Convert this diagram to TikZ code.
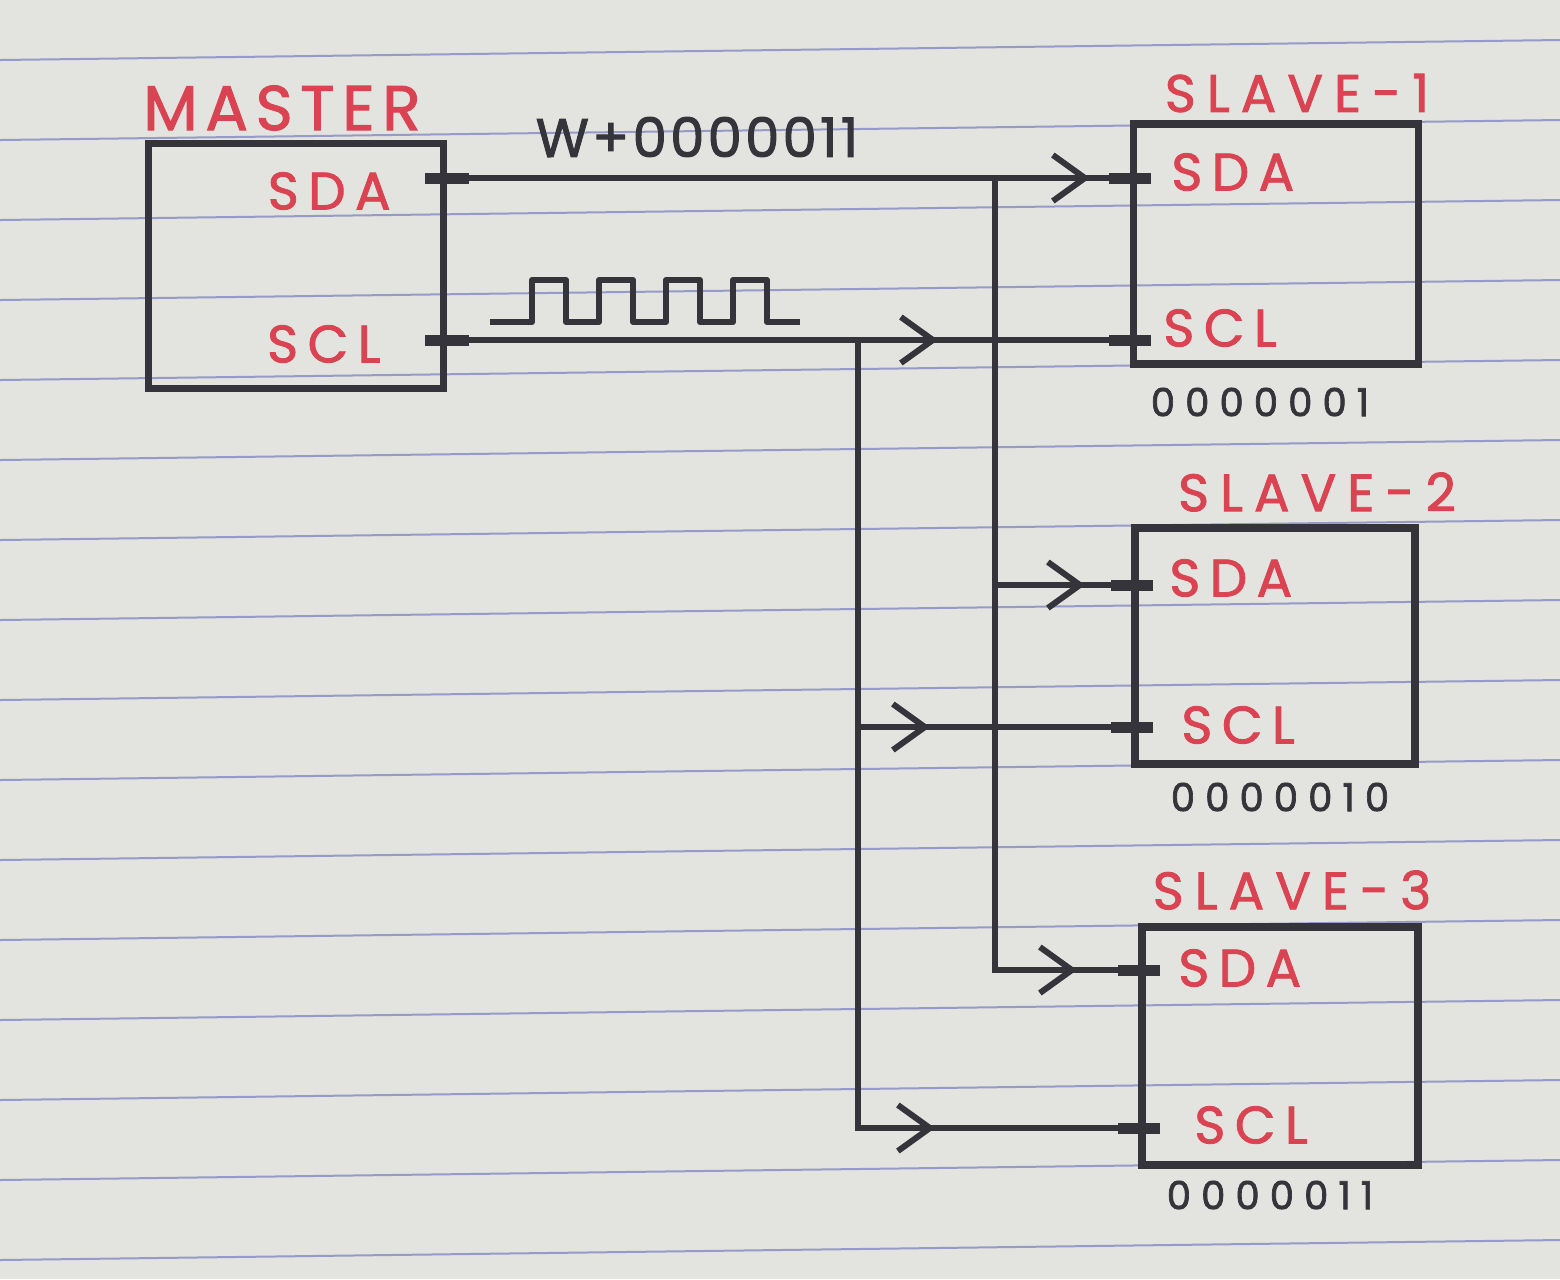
\documentclass[tikz,border=0pt]{standalone}
\usepackage{fontspec}
\usepackage{tikz}
\usetikzlibrary{positioning, arrows.meta, decorations.markings}
\definecolor{paper}{HTML}{E3E3DF}
\definecolor{ruleBlue}{HTML}{959AC8}
\definecolor{ink}{HTML}{34343A}
\definecolor{marker}{HTML}{DA4452}
\newfontfamily\titlefont[LetterSpace=12, FakeBold=1.6]{Poppins}
\newfontfamily\slavefont[LetterSpace=21, FakeBold=1.6]{Poppins}
\newfontfamily\pinfont[LetterSpace=18, FakeBold=1.6]{Poppins}
\newfontfamily\addrfont[LetterSpace=26, FakeBold=1.8]{Poppins}
\newfontfamily\datafont[LetterSpace=6, FakeBold=1.8]{Poppins}

\begin{document}
\begin{tikzpicture}[x=0.1mm, y=-0.1mm,
  chip/.style={draw=ink, line width=0.75mm, inner sep=0pt, outer sep=0pt},
  wire/.style={draw=ink, line width=0.6mm},
  pintick/.style={draw=ink, line width=1.1mm},
  ruling/.style={draw=ruleBlue, line width=0.2mm},
  mtitle/.style={text=marker, font=\titlefont\fontsize{18}{20}\selectfont},
  stitle/.style={text=marker, font=\slavefont\fontsize{15}{18}\selectfont},
  pinlbl/.style={text=marker, font=\pinfont\fontsize{15}{18}\selectfont},
  addr/.style={text=ink, font=\addrfont\fontsize{11}{13}\selectfont},
  flow/.style={postaction={decorate}, decoration={markings,
    mark=at position #1 with {\arrow{Straight Barb[length=3.2mm, width=4.6mm]}}}}]
  % lined paper
  \fill[paper] (0,0) rectangle (1560,1279);
  \useasboundingbox (0,0) rectangle (1560,1279);
  \foreach \n in {0,...,15}
    \draw[ruling] (0,{60+80*\n}) -- (1560,{40+80*\n});

  % master and slaves
  \node[chip, minimum width=29.5mm, minimum height=24.5mm] (master) at (296,266) {};
  \node[chip, minimum width=28.5mm, minimum height=24mm] (slave1) at (1276,244) {};
  \node[chip, minimum width=28mm, minimum height=23.6mm] (slave2) at (1275,646) {};
  \node[chip, minimum width=27.6mm, minimum height=23.8mm] (slave3) at (1280,1046) {};

  \node[mtitle] (mastername) at (282,108) {MASTER};
  \node[stitle] (slave1name) at (1297,93) {SLAVE-1};
  \node[stitle] (slave2name) at (1317,492) {SLAVE-2};
  \node[stitle] (slave3name) at (1292,890) {SLAVE-3};

  \node[addr] (slave1addr) at (1260,402) {0000001};
  \node[addr] (slave2addr) at (1280,797) {0000010};
  \node[addr] (slave3addr) at (1270,1195) {0000011};

  % pins
  \coordinate (msda) at (443,178);
  \coordinate (mscl) at (443,340);
  \coordinate (s1sda) at (1133,178);
  \coordinate (s1scl) at (1133,340);
  \coordinate (s2sda) at (1135,585);
  \coordinate (s2scl) at (1135,727);
  \coordinate (s3sda) at (1142,970);
  \coordinate (s3scl) at (1142,1128);
  \coordinate (sdatop) at (995,178);
  \coordinate (scltop) at (858,340);

  \node[pinlbl, left=4mm of msda, yshift=-1.3mm] (msdalbl) {SDA};
  \node[pinlbl, left=5mm of mscl, yshift=-0.4mm] (mscllbl) {SCL};
  \node[pinlbl, right=2.6mm of s1sda, yshift=0.6mm] (s1sdalbl) {SDA};
  \node[pinlbl, right=1.8mm of s1scl, yshift=1.2mm] (s1scllbl) {SCL};
  \node[pinlbl, right=2.2mm of s2sda, yshift=0.7mm] (s2sdalbl) {SDA};
  \node[pinlbl, right=3.4mm of s2scl, yshift=0.2mm] (s2scllbl) {SCL};
  \node[pinlbl, right=2.4mm of s3sda, yshift=0.2mm] (s3sdalbl) {SDA};
  \node[pinlbl, right=4mm of s3scl, yshift=0.3mm] (s3scllbl) {SCL};

  \foreach \p in {msda, mscl}
    \draw[pintick] ([xshift=-1.8mm]\p) -- ([xshift=2.6mm]\p);
  \foreach \p in {s1sda, s1scl, s2sda, s2scl, s3sda, s3scl}
    \draw[pintick] ([xshift=-2.4mm]\p) -- ([xshift=1.8mm]\p);

  % SDA bus
  \draw[wire, flow=-4.3mm] (msda) -- (s1sda);
  \draw[wire, flow=-5mm] (sdatop |- s2sda) -- (s2sda);
  \draw[wire, flow=-6.5mm] (sdatop) |- (s3sda);
  \node[text=ink, font=\datafont\fontsize{15.5}{18}\selectfont] (sdadata) at (697,137) {W+0000011};

  % SCL bus
  \draw[wire, flow=-19.5mm] (mscl) -- (s1scl);
  \draw[wire, flow=-20.5mm] (scltop |- s2scl) -- (s2scl);
  \draw[wire, flow=-20.7mm] (scltop) |- (s3scl);
  \draw[wire, line join=round] (490,322) -- (532,322)
    \foreach \k in {1,...,4} { -- ++(0,-42) -- ++(34,0) -- ++(0,42) -- ++(33,0) };
\end{tikzpicture}
\end{document}
